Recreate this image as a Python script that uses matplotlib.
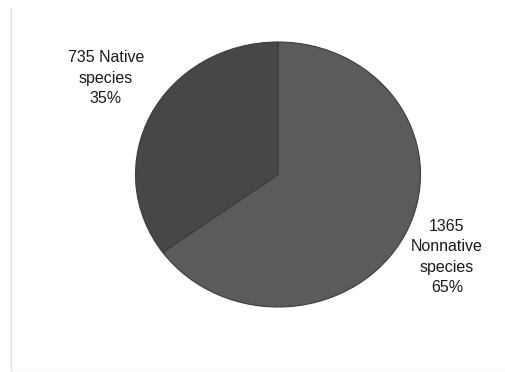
import matplotlib
matplotlib.use("Agg")
import matplotlib.pyplot as plt
from matplotlib.lines import Line2D

# data
names = ["Nonnative", "Native"]
counts = [1365, 735]
colors = ["#5b5b5b", "#474747"]

total = sum(counts)
pcts = [round(100 * c / total) for c in counts]
# the label breaks differ between the two slices in the original
seps = ["\n", " "]
labels = ["%d%s%s\nspecies\n%d%%" % (c, s, n, p)
          for c, s, n, p in zip(counts, seps, names, pcts)]

dpi = 100
W, H = 505, 372
fig = plt.figure(figsize=(W / dpi, H / dpi), dpi=dpi)
plt.rcParams["font.family"] = ["Liberation Sans", "DejaVu Sans"]

# pie is slightly squashed in the reference (285 x 265 px)
ax = fig.add_axes([135.5 / W, (H - 307) / H, 285 / W, 265 / H])
ax.pie(counts, colors=colors, startangle=90, counterclock=False,
       wedgeprops=dict(edgecolor="#3c3c3c", linewidth=0.8))
ax.set_aspect("auto")
ax.set_xlim(-1, 1)
ax.set_ylim(-1, 1)
ax.axis("off")

# data labels
fig.text(447 / W, 1 - 257 / H, labels[0], ha="center", va="center",
         fontsize=11.5, linespacing=1.45, color="#1a1a1a")
fig.text(106 / W, 1 - 78 / H, labels[1], ha="center", va="center",
         fontsize=11.5, linespacing=1.45, color="#1a1a1a")

# faint frame of the original chart area
fig.add_artist(Line2D([10.5 / W, 10.5 / W], [0, 1 - 8 / H], color="#e2e2e2", lw=1))
fig.add_artist(Line2D([10.5 / W, 1], [0.5 / H, 0.5 / H], color="#eeeeee", lw=1))

fig.savefig("out.png", dpi=dpi)
